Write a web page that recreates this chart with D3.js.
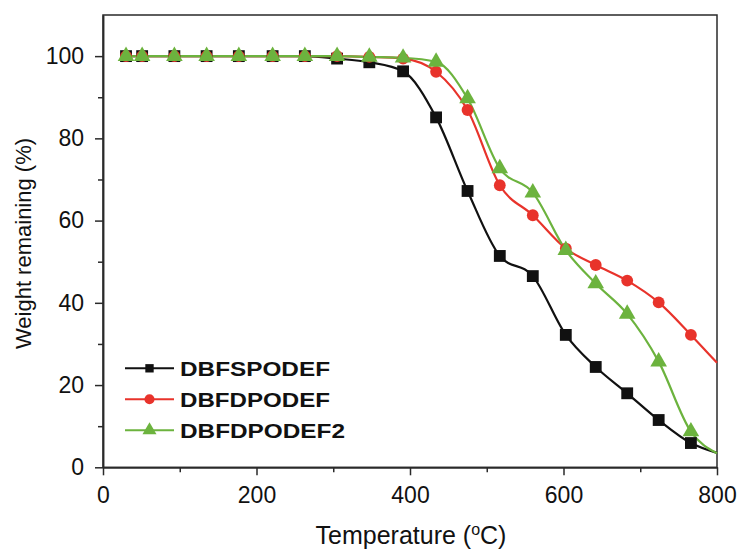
<!DOCTYPE html>
<html>
<head>
<meta charset="utf-8">
<script src="https://cdn.jsdelivr.net/npm/d3@7"></script>
<style>
  body { margin: 0; background: #fff; }
  svg { display: block; font-family: "Liberation Sans", Arial, sans-serif; }
</style>
</head>
<body>
<svg id="chart" width="739" height="550"></svg>
<script>
// ---- data ----
const temps = [30, 51, 93, 135, 177, 221, 263, 305, 347, 391, 434, 475, 517, 560, 603, 642, 683, 724, 766, 800];
const dbfspodef = [100, 100, 100, 100, 100, 100, 100, 99.4, 98.5, 96.3, 85.1, 67.2, 51.4, 46.5, 32.2, 24.4, 18.0, 11.5, 5.9, 3.5];
const dbfdpodef = [100, 100, 100, 100, 100, 100, 100, 100, 99.8, 99.4, 96.2, 86.9, 68.6, 61.3, 53.2, 49.2, 45.4, 40.1, 32.2, 25.4];
const dbfdpodef2 = [100, 100, 100, 100, 100, 100, 100, 100, 99.8, 99.6, 98.6, 89.7, 72.7, 66.8, 52.8, 44.7, 37.3, 25.7, 8.7, 3.4];
const seriesNames = ["DBFSPODEF", "DBFDPODEF", "DBFDPODEF2"];
const xMajorTicks = [0, 200, 400, 600, 800];
const xMinorTicks = [100, 300, 500, 700];
const yMajorTicks = [0, 20, 40, 60, 80, 100];
const yMinorTicks = [10, 30, 50, 70, 90];

const colors = ["#111111", "#e8332b", "#6cb33e"];
const symbols = [d3.symbolSquare, d3.symbolCircle, d3.symbolTriangle];
const symSizes = [140, 110, 120];
const legSizes = [70, 80, 85];
const seriesValues = [dbfspodef, dbfdpodef, dbfdpodef2];

const svg = d3.select("#chart");
const L = 103, R = 717, T = 15, B = 467.3;
const x = d3.scaleLinear().domain([0, 800]).range([L, R]);
const y = d3.scaleLinear().domain([0, 110]).range([B, T]);

// frame
svg.append("rect").attr("x", L).attr("y", T).attr("width", R - L).attr("height", B - T)
  .attr("fill", "none").attr("stroke", "#2a2a2a").attr("stroke-width", 1.5);

// axes
function styleAxis(g) {
  g.selectAll(".domain").attr("stroke", "#2a2a2a").attr("stroke-width", 1.5);
  g.selectAll(".tick line").attr("stroke", "#2a2a2a").attr("stroke-width", 1.5);
  g.selectAll(".tick text").attr("font-size", 23).attr("fill", "#111")
    .attr("font-family", "'Liberation Sans', Arial, sans-serif");
}
svg.append("g").attr("transform", `translate(0,${B})`)
  .call(d3.axisBottom(x).tickValues(xMajorTicks).tickSize(8).tickSizeOuter(0).tickPadding(11))
  .call(styleAxis);
svg.append("g").attr("transform", `translate(0,${B})`)
  .call(d3.axisBottom(x).tickValues(xMinorTicks).tickSize(5).tickSizeOuter(0).tickFormat(""))
  .call(styleAxis);
svg.append("g").attr("transform", `translate(${L},0)`)
  .call(d3.axisLeft(y).tickValues(yMajorTicks).tickSize(8).tickSizeOuter(0).tickPadding(11))
  .call(styleAxis);
svg.append("g").attr("transform", `translate(${L},0)`)
  .call(d3.axisLeft(y).tickValues(yMinorTicks).tickSize(5).tickSizeOuter(0).tickFormat(""))
  .call(styleAxis);

// titles
const xt = svg.append("text").attr("x", 411).attr("y", 544).attr("text-anchor", "middle")
  .attr("font-size", 25).attr("fill", "#111");
xt.append("tspan").text("Temperature (");
xt.append("tspan").text("o").attr("font-size", 16).attr("dy", -9);
xt.append("tspan").text("C)").attr("dy", 9);

svg.append("text").attr("transform", "translate(31,243.5) rotate(-90)")
  .attr("text-anchor", "middle").attr("font-size", 22).attr("fill", "#111")
  .text("Weight remaining (%)");

// lines and markers
const line = d3.line().x(d => x(d[0])).y(d => y(d[1])).curve(d3.curveMonotoneX);
seriesValues.forEach((vals, i) => {
  const pts = temps.map((t, j) => [t, vals[j]]);
  svg.append("path").datum(pts).attr("d", line).attr("fill", "none")
    .attr("stroke", colors[i]).attr("stroke-width", 2.2);
});
seriesValues.forEach((vals, i) => {
  const pts = temps.map((t, j) => [t, vals[j]]).filter(d => d[0] < 800);
  svg.append("g").selectAll("path").data(pts).join("path")
    .attr("transform", d => `translate(${x(d[0])},${y(d[1])})`)
    .attr("d", d3.symbol().type(symbols[i]).size(symSizes[i]))
    .attr("fill", colors[i]);
});

// legend
const legY = [368.3, 399.3, 430.3];
const legW = [150, 150, 165];
seriesNames.forEach((name, i) => {
  const g = svg.append("g");
  g.append("line").attr("x1", 125).attr("x2", 174).attr("y1", legY[i]).attr("y2", legY[i])
    .attr("stroke", colors[i]).attr("stroke-width", 2);
  g.append("path").attr("transform", `translate(149.5,${legY[i]})`)
    .attr("d", d3.symbol().type(symbols[i]).size(legSizes[i])).attr("fill", colors[i]);
  g.append("text").attr("x", 180).attr("y", legY[i] + 7.5).attr("font-size", 21)
    .attr("font-weight", "bold").attr("fill", "#111")
    .attr("textLength", legW[i]).attr("lengthAdjust", "spacingAndGlyphs").text(name);
});
</script>
</body>
</html>
